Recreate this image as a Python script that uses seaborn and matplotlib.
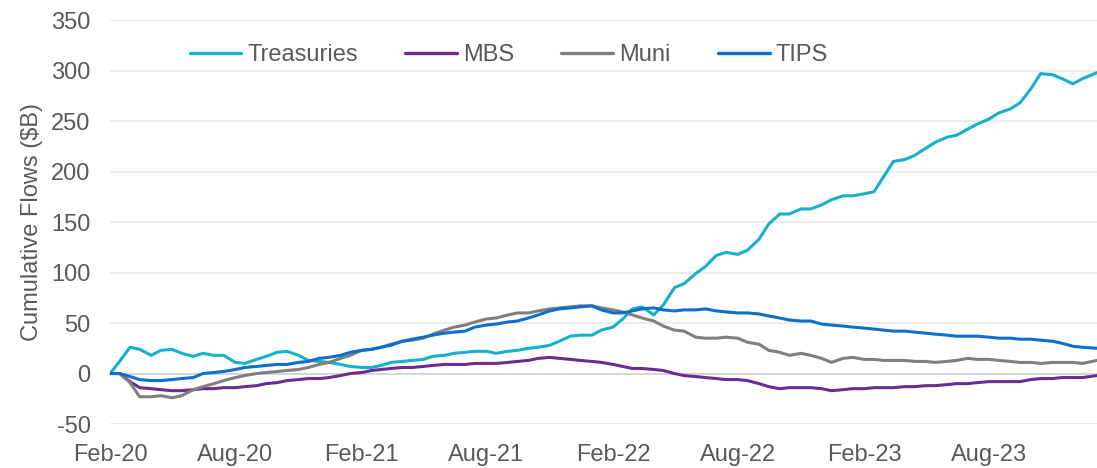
import numpy as np
import pandas as pd
import matplotlib
matplotlib.use("Agg")
import matplotlib.pyplot as plt
import matplotlib.dates as mdates
import seaborn as sns

# ---- data (semi-monthly readings, $B cumulative) ----
months = pd.date_range("2020-02-01", "2023-12-01", freq="MS")
dates = []
for m in months:
    dates.append(m)
    dates.append(m + pd.Timedelta(days=14))
dates.append(pd.Timestamp("2024-01-05"))

treasuries = [0, 12, 26, 24, 18, 23, 24, 20, 17, 20, 18, 18, 11, 10, 14, 17, 21, 22, 18, 13,
              12, 11, 9, 7, 6, 6, 8, 11, 12, 13, 14, 17, 18, 20, 21, 22, 22, 20, 22, 23,
              25, 26, 28, 32, 37, 38, 38, 43, 46, 54, 64, 66, 58, 68, 85, 89, 99, 106, 117, 120,
              118, 122, 133, 148, 158, 158, 163, 163, 167, 172, 176, 176, 178, 180, 195, 210, 212, 216, 223, 229,
              234, 236, 242, 247, 252, 258, 262, 268, 282, 297, 296, 292, 287, 292, 298]
mbs = [0, 0, -8, -14, -15, -16, -17, -17, -16, -15, -15, -14, -14, -13, -12, -10, -9, -7, -6, -5,
       -5, -4, -2, 0, 1, 3, 4, 5, 6, 6, 7, 8, 9, 9, 9, 10, 10, 10, 11, 12,
       13, 15, 16, 15, 14, 13, 12, 11, 9, 7, 5, 5, 4, 3, 0, -2, -3, -4, -5, -6,
       -6, -7, -10, -13, -15, -14, -14, -14, -15, -17, -16, -15, -15, -14, -14, -14, -13, -13, -12, -12,
       -11, -10, -10, -9, -8, -8, -8, -8, -6, -5, -5, -4, -4, -4, -2]
muni = [0, 0, -9, -23, -23, -22, -24, -22, -16, -13, -10, -7, -4, -2, 0, 1, 2, 3, 4, 6,
        9, 11, 15, 18, 23, 24, 26, 29, 32, 33, 35, 39, 43, 46, 48, 51, 54, 55, 58, 60,
        60, 62, 64, 65, 66, 67, 67, 65, 63, 61, 58, 55, 52, 47, 43, 42, 36, 35, 35, 36,
        35, 31, 29, 23, 21, 18, 20, 18, 15, 11, 15, 16, 14, 14, 13, 13, 13, 12, 12, 11,
        12, 13, 15, 14, 14, 13, 12, 11, 11, 10, 11, 11, 11, 10, 13]
tips = [0, 0, -3, -6, -7, -7, -6, -5, -4, 0, 1, 2, 4, 6, 7, 8, 9, 9, 11, 12,
        15, 16, 18, 21, 23, 24, 26, 28, 32, 34, 36, 38, 40, 41, 42, 46, 48, 49, 51, 52,
        55, 58, 62, 64, 65, 66, 67, 63, 60, 60, 62, 64, 65, 63, 62, 63, 63, 64, 62, 61,
        60, 60, 59, 57, 55, 53, 52, 52, 49, 48, 47, 46, 45, 44, 43, 42, 42, 41, 40, 39,
        38, 37, 37, 37, 36, 35, 35, 34, 34, 33, 32, 30, 27, 26, 25]

series_names = ["Treasuries", "MBS", "Muni", "TIPS"]
colors = {"Treasuries": "#17B0CC", "MBS": "#6A2C91", "Muni": "#7F7F7F", "TIPS": "#0A70CC"}
yticks = [-50, 0, 50, 100, 150, 200, 250, 300, 350]
xtick_dates = pd.date_range("2020-02-01", "2023-08-01", freq="6MS")

df = pd.concat([
    pd.DataFrame({"date": dates, "value": vals, "series": name})
    for name, vals in zip(series_names, [treasuries, mbs, muni, tips])
], ignore_index=True)

# ---- plot ----
sns.set_theme(style="white")
plt.rcParams["font.family"] = ["Liberation Sans", "DejaVu Sans"]
plt.rcParams["axes.unicode_minus"] = False

FS = 17
fig = plt.figure(figsize=(10.97, 4.68), dpi=100)
ax = fig.add_axes([0.1003, 0.094, 0.8997, 0.863])

sns.lineplot(data=df, x="date", y="value", hue="series", hue_order=series_names,
             palette=colors, linewidth=2.2, ax=ax, legend=True)

ax.set_ylim(-50, 350)
ax.set_yticks(yticks)
ax.set_xlim(dates[0], dates[-1])
ax.set_xticks(xtick_dates)
ax.xaxis.set_major_formatter(mdates.DateFormatter("%b-%y"))

ax.grid(axis="y", color="#EBEBEB", linewidth=1.3)
ax.grid(axis="x", visible=False)
ax.set_axisbelow(True)
for s in ["top", "right", "left"]:
    ax.spines[s].set_visible(False)
ax.spines["bottom"].set_position(("data", 0))
ax.spines["bottom"].set_color("#D6D6D6")
ax.spines["bottom"].set_linewidth(1.4)
ax.spines["bottom"].set_zorder(1)

ax.tick_params(axis="x", direction="out", length=5, width=1.2, color="#D6D6D6",
               pad=46, labelsize=FS, labelcolor="#595959")
ax.tick_params(axis="y", length=0, pad=14, labelsize=FS, labelcolor="#595959")

ax.set_xlabel("")
ax.set_ylabel("Cumulative Flows ($B)", fontsize=FS, color="#595959", labelpad=6)

leg = ax.legend(loc="center", bbox_to_anchor=(0.404, 0.913), ncol=4, frameon=False,
                fontsize=FS, handlelength=2.2, handletextpad=0.25, columnspacing=2.0)
for t in leg.get_texts():
    t.set_color("#595959")
for line in leg.get_lines():
    line.set_linewidth(2.4)

fig.savefig("out.png", dpi=100)
